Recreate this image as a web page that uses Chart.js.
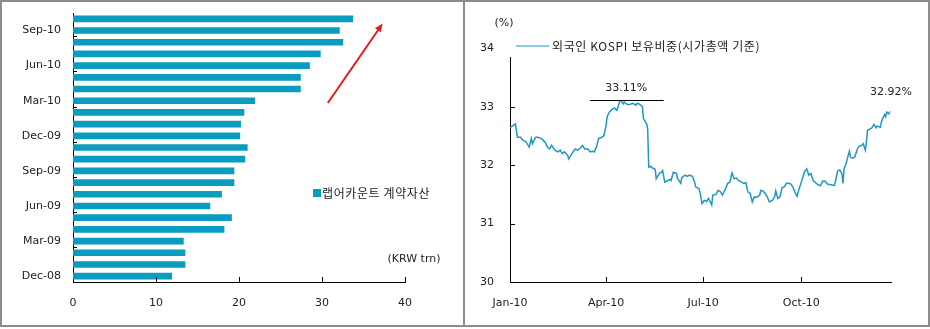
<!DOCTYPE html>
<html>
<head>
<meta charset="utf-8">
<script src="https://cdn.jsdelivr.net/npm/chart.js@4.4.0/dist/chart.umd.min.js"></script>
<style>
  body { margin: 0; background: #fff; width: 930px; height: 329px; position: relative; overflow: hidden; }
  .panel { position: absolute; top: 0; height: 323px; border: 2px solid #8c8c8c; }
  #p1 { left: 0; width: 461px; }
  #p2 { left: 463px; width: 463px; }
  canvas { display: block; }
</style>
</head>
<body>
<div class="panel" id="p1"><canvas id="bars" width="461" height="323" style="width:461px;height:323px"></canvas></div>
<div class="panel" id="p2"><canvas id="line" width="463" height="323" style="width:463px;height:323px"></canvas></div>
<script>
// left: wrap account assets by month (KRW trn)
const months = ['Dec-08', 'Jan-09', 'Feb-09', 'Mar-09', 'Apr-09', 'May-09', 'Jun-09', 'Jul-09', 'Aug-09',
  'Sep-09', 'Oct-09', 'Nov-09', 'Dec-09', 'Jan-10', 'Feb-10', 'Mar-10', 'Apr-10', 'May-10', 'Jun-10',
  'Jul-10', 'Aug-10', 'Sep-10', 'Oct-10'];
const wrapAssets = [11.9, 13.5, 13.5, 13.3, 18.2, 19.1, 16.5, 17.9, 19.4, 19.4, 20.7, 21.0, 20.1,
  20.2, 20.6, 21.9, 27.4, 27.4, 28.5, 29.8, 32.5, 32.1, 33.7];
const barTicks = [0, 10, 20, 30, 40];

// right: foreign ownership of KOSPI (% of market cap), day of year 2010
const tradeDay = [0, 5, 7, 10, 12, 15, 18, 20, 21, 24, 26, 29, 31, 33, 35, 37, 39, 42, 45, 47, 49, 51, 54, 55,
  58, 61, 63, 65, 68, 70, 73, 75, 77, 79, 81, 83, 86, 88, 90, 91, 93, 96, 98, 100, 101, 103, 104, 106, 107,
  110, 112, 115, 118, 119, 121, 124, 125, 128, 129, 130, 132, 133, 136, 137, 140, 142, 143, 145, 147, 150,
  151, 153, 156, 157, 160, 161, 164, 166, 168, 171, 173, 174, 177, 178, 180, 182, 184, 186, 189, 190, 193,
  195, 197, 199, 202, 204, 206, 208, 210, 212, 214, 217, 219, 221, 223, 225, 227, 229, 231, 234, 235, 237,
  239, 241, 243, 246, 248, 249, 251, 253, 255, 257, 259, 261, 263, 265, 267, 269, 271, 274, 276, 278, 280,
  282, 284, 287, 289, 291, 293, 295, 298, 300, 302, 304, 305, 307, 309, 311, 312, 313, 315, 316, 318, 319,
  321, 323, 326, 328, 330, 331, 333, 334, 335, 337, 339, 341, 343, 344, 347, 348, 349, 351, 352, 353, 355, 356];
const kospiShare = [32.64, 32.71, 32.48, 32.48, 32.43, 32.40, 32.31, 32.46, 32.37, 32.48, 32.48, 32.46, 32.43,
  32.39, 32.31, 32.28, 32.34, 32.26, 32.23, 32.26, 32.20, 32.23, 32.17, 32.11, 32.20, 32.28, 32.26, 32.28,
  32.34, 32.28, 32.28, 32.23, 32.24, 32.23, 32.31, 32.46, 32.48, 32.51, 32.68, 32.83, 32.91, 32.96, 32.98,
  32.94, 32.98, 33.11, 33.11, 33.05, 33.08, 33.04, 33.04, 33.06, 33.03, 33.06, 33.05, 33.01, 32.80, 32.71,
  32.63, 31.97, 31.98, 31.96, 31.93, 31.77, 31.86, 31.88, 31.91, 31.71, 31.73, 31.76, 31.74, 31.88, 31.86,
  31.77, 31.69, 31.79, 31.83, 31.81, 31.83, 31.81, 31.71, 31.63, 31.60, 31.54, 31.34, 31.40, 31.38, 31.43,
  31.32, 31.49, 31.50, 31.57, 31.55, 31.49, 31.60, 31.69, 31.71, 31.87, 31.77, 31.78, 31.74, 31.71, 31.69,
  31.70, 31.54, 31.52, 31.37, 31.46, 31.45, 31.49, 31.57, 31.56, 31.52, 31.46, 31.37, 31.40, 31.46, 31.56,
  31.43, 31.46, 31.62, 31.63, 31.69, 31.69, 31.68, 31.63, 31.54, 31.47, 31.60, 31.77, 31.89, 31.94, 31.83,
  31.86, 31.74, 31.69, 31.66, 31.65, 31.73, 31.73, 31.67, 31.67, 31.66, 31.65, 31.73, 31.90, 31.92, 31.85,
  31.69, 31.94, 32.03, 32.11, 32.24, 32.14, 32.12, 32.14, 32.30, 32.33, 32.35, 32.37, 32.26, 32.40, 32.60,
  32.62, 32.64, 32.70, 32.64, 32.67, 32.65, 32.74, 32.79, 32.87, 32.83, 32.91, 32.88, 32.92];
const quarterDays = [0, 90, 181, 273];
const quarterLabels = ['Jan-10', 'Apr-10', 'Jul-10', 'Oct-10'];
const shareTicks = [30, 31, 32, 33, 34];
const peak = { from: 75, to: 144, value: 33.11, label: '33.11%' };
const last = { label: '32.92%' };

const FONT = { family: 'DejaVu Sans', size: 11 };
const KFONT = '12px "Noto Sans CJK KR", "DejaVu Sans"';
const BAR_COLOR = '#0a9cbf';
const LINE_COLOR = '#2198c2';

function seg(ctx, x1, y1, x2, y2) {
  ctx.beginPath();
  ctx.moveTo(x1, y1);
  ctx.lineTo(x2, y2);
  ctx.stroke();
}

// inner tick marks, legend, arrow and unit note for the bar chart
const barExtras = {
  id: 'barExtras',
  afterDraw(chart) {
    const { ctx, scales: { x, y } } = chart;
    ctx.save();
    ctx.strokeStyle = '#000';
    ctx.lineWidth = 1;
    barTicks.slice(1).forEach(v => {
      const px = Math.round(x.getPixelForValue(v)) + 0.5;
      seg(ctx, px, y.bottom, px, y.bottom - 5);
    });
    months.forEach((m, i) => {
      if (i > 0 && i % 3 === 0) {
        const py = Math.round(y.getPixelForValue(i - 0.5)) + 0.5;
        seg(ctx, x.left, py, x.left + 4, py);
      }
    });

    // red trend arrow
    const ax1 = x.getPixelForValue(30.7), ay1 = y.getPixelForValue(14.8);
    const ax2 = x.getPixelForValue(37.3), ay2 = y.getPixelForValue(21.6);
    ctx.strokeStyle = '#e31b1b';
    ctx.fillStyle = '#e31b1b';
    ctx.lineWidth = 2;
    seg(ctx, ax1, ay1, ax2 - 2, ay2 + 3);
    const ang = Math.atan2(ay2 - ay1, ax2 - ax1);
    ctx.beginPath();
    ctx.moveTo(ax2, ay2);
    ctx.lineTo(ax2 - 9 * Math.cos(ang - 0.4), ay2 - 9 * Math.sin(ang - 0.4));
    ctx.lineTo(ax2 - 9 * Math.cos(ang + 0.4), ay2 - 9 * Math.sin(ang + 0.4));
    ctx.closePath();
    ctx.fill();

    // legend
    ctx.fillStyle = BAR_COLOR;
    ctx.fillRect(311, 187, 8, 8);
    ctx.fillStyle = '#222';
    ctx.font = KFONT;
    ctx.letterSpacing = '0.6px';
    ctx.textBaseline = 'middle';
    ctx.fillText('랩어카운트 계약자산', 320, 191);
    ctx.letterSpacing = '0px';

    ctx.font = '11px "DejaVu Sans"';
    ctx.textAlign = 'center';
    ctx.fillText('(KRW trn)', 412, 257);
    ctx.restore();
  }
};

new Chart(document.getElementById('bars'), {
  type: 'bar',
  data: {
    labels: months,
    datasets: [{ label: '랩어카운트 계약자산', data: wrapAssets, backgroundColor: BAR_COLOR, barThickness: 6 }]
  },
  options: {
    indexAxis: 'y',
    responsive: false,
    animation: false,
    layout: { padding: { left: 0, top: 11, right: 58, bottom: 0 } },
    plugins: { legend: { display: false }, tooltip: { enabled: false } },
    scales: {
      x: {
        min: 0, max: 40,
        afterFit: s => { s.height = 43; },
        grid: { display: false, drawTicks: false },
        border: { display: true, color: '#000', width: 1 },
        ticks: { stepSize: 10, padding: 15, color: '#222', font: FONT, maxRotation: 0 }
      },
      y: {
        reverse: true,
        afterFit: s => { s.width = 71; s.paddingTop = 0; s.paddingBottom = 0; },
        grid: { display: false, drawTicks: false },
        border: { display: true, color: '#000', width: 1 },
        ticks: {
          autoSkip: false, padding: 12, color: '#222', font: FONT,
          callback: function (val, i) { return i % 3 === 0 ? this.getLabelForValue(val) : ''; }
        }
      }
    }
  },
  plugins: [barExtras]
});

// inner ticks, legend and annotations for the line chart
const lineExtras = {
  id: 'lineExtras',
  afterDraw(chart) {
    const { ctx, scales: { x, y } } = chart;
    ctx.save();
    ctx.strokeStyle = '#000';
    ctx.lineWidth = 1;
    quarterDays.slice(1).forEach(v => {
      const px = Math.round(x.getPixelForValue(v)) + 0.5;
      seg(ctx, px, y.bottom, px, y.bottom - 5);
    });
    shareTicks.slice(1, -1).forEach(v => {
      const py = Math.round(y.getPixelForValue(v)) + 0.5;
      seg(ctx, x.left, py, x.left + 5, py);
    });

    // peak marker
    const py = Math.round(y.getPixelForValue(peak.value)) + 0.5;
    seg(ctx, x.getPixelForValue(peak.from), py, x.getPixelForValue(peak.to), py);
    ctx.fillStyle = '#222';
    ctx.font = '11px "DejaVu Sans"';
    ctx.textAlign = 'center';
    ctx.textBaseline = 'middle';
    ctx.fillText(peak.label, x.getPixelForValue((peak.from + peak.to) / 2 - 0.5), py - 12);
    const n = tradeDay.length - 1;
    ctx.fillText(last.label, x.getPixelForValue(tradeDay[n]) + 1, y.getPixelForValue(kospiShare[n]) - 19);
    ctx.fillText('(%)', 39, 21);

    // legend box (white, hides the top of the axis)
    ctx.fillStyle = '#fff';
    ctx.fillRect(40, 36, 270, 19);
    ctx.strokeStyle = LINE_COLOR;
    ctx.lineWidth = 1.2;
    seg(ctx, 51, 44, 84, 44);
    ctx.fillStyle = '#222';
    ctx.font = KFONT;
    ctx.letterSpacing = '0.6px';
    ctx.textAlign = 'left';
    ctx.fillText('외국인 KOSPI 보유비중(시가총액 기준)', 87, 44);
    ctx.restore();
  }
};

new Chart(document.getElementById('line'), {
  type: 'line',
  data: {
    datasets: [{
      label: '외국인 KOSPI 보유비중(시가총액 기준)',
      data: tradeDay.map((d, i) => ({ x: d, y: kospiShare[i] })),
      borderColor: LINE_COLOR,
      borderWidth: 1.5,
      pointRadius: 0,
      tension: 0
    }]
  },
  options: {
    responsive: false,
    animation: false,
    layout: { padding: { left: 0, top: 46.5, right: 37, bottom: 0 } },
    plugins: { legend: { display: false }, tooltip: { enabled: false } },
    scales: {
      x: {
        type: 'linear', min: 0, max: 357,
        afterFit: s => { s.height = 43; },
        afterBuildTicks: s => { s.ticks = quarterDays.map(v => ({ value: v })); },
        grid: { display: false, drawTicks: false },
        border: { display: true, color: '#000', width: 1 },
        ticks: {
          autoSkip: false, maxRotation: 0, padding: 15, color: '#222', font: FONT,
          callback: (v, i) => quarterLabels[i]
        }
      },
      y: {
        min: 30, max: 34,
        afterFit: s => { s.width = 45; },
        afterBuildTicks: s => { s.ticks = shareTicks.map(v => ({ value: v })); },
        grid: { display: false, drawTicks: false },
        border: { display: true, color: '#000', width: 1 },
        ticks: { padding: 16, color: '#222', font: FONT }
      }
    }
  },
  plugins: [lineExtras]
});
</script>
</body>
</html>
